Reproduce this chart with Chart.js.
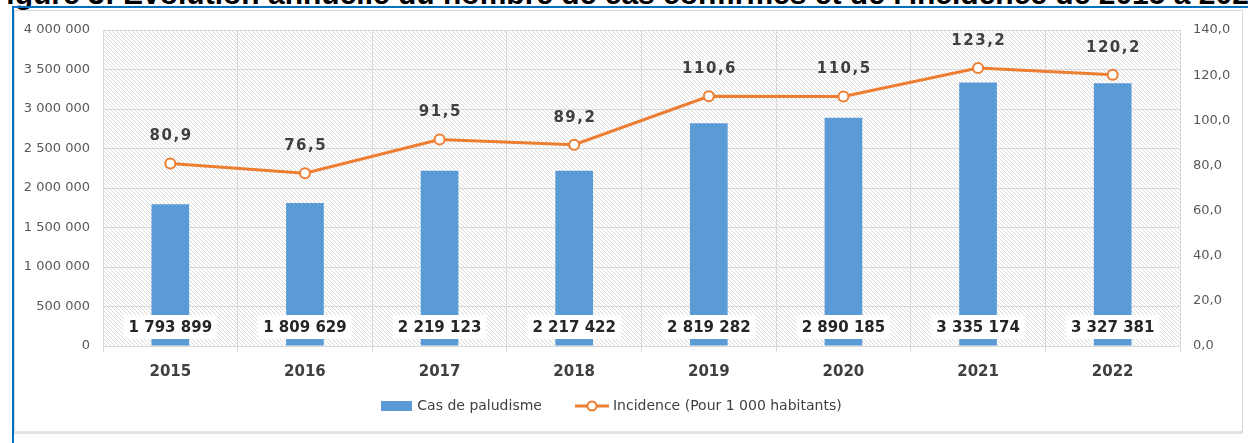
<!DOCTYPE html>
<html><head><meta charset="utf-8">
<script src="https://cdn.jsdelivr.net/npm/chart.js@4/dist/chart.umd.min.js"></script>
<style>
html,body{margin:0;padding:0;background:#fff;overflow:hidden;}
#wrap{position:relative;width:1248px;height:443px;overflow:hidden;background:#fff;}
#title{position:absolute;left:-12px;top:-23px;font:bold 30px "Liberation Sans",Arial,sans-serif;white-space:nowrap;color:#000;line-height:34px;}
#bl-h{position:absolute;left:12px;right:0;top:6px;height:2px;background:#0070C0;}
#bl-v{position:absolute;left:12px;width:2px;top:6px;bottom:0;background:#0070C0;}
#box{position:absolute;left:14px;top:10px;width:1227px;height:420px;border:1px solid #d9d9d9;border-bottom:3px solid #e2e4e3;box-sizing:content-box;}
canvas{position:absolute;left:0;top:0;}
</style>
</head><body>
<div id="wrap">
<div id="title">Figure 3: Évolution annuelle du nombre de cas confirmés et de l'incidence de 2015 à 2022</div>
<div id="box"></div>
<div id="bl-h"></div>
<div id="bl-v"></div>
<canvas id="c" width="1248" height="443"></canvas>
</div>
<script>
// ---- data ----
const years = ['2015','2016','2017','2018','2019','2020','2021','2022'];
const cases = [1793899,1809629,2219123,2217422,2819282,2890185,3335174,3327381];
const incidence = [80.9,76.5,91.5,89.2,110.6,110.5,123.2,120.2];
const seriesNames = ['Cas de paludisme','Incidence (Pour 1 000 habitants)'];

const BLUE='#5B9BD5', ORANGE='#ED7D31';
const FONT='"DejaVu Sans", Verdana, sans-serif';
const fmtInt = n => String(Math.round(n)).replace(/\B(?=(\d{3})+(?!\d))/g,' ');
const fmtDec = v => v.toFixed(1).replace('.',',');

function mk(w,h,draw){const c=document.createElement('canvas');c.width=w;c.height=h;draw(c.getContext('2d'));return c;}
const barIcon = mk(31,10,g=>{g.fillStyle=BLUE;g.fillRect(0,0,31,10);});
const lineIcon = mk(34,12,g=>{g.strokeStyle=ORANGE;g.lineWidth=3;g.beginPath();g.moveTo(0,6);g.lineTo(34,6);g.stroke();
  g.beginPath();g.arc(17,6,4.5,0,2*Math.PI);g.fillStyle='#fff';g.fill();g.lineWidth=2;g.stroke();});

const hatch = {
  id:'hatch',
  beforeDraw(chart){
    const {ctx, chartArea:a} = chart;
    ctx.save();
    ctx.beginPath(); ctx.rect(a.left,a.top,a.right-a.left,a.bottom-a.top); ctx.clip();
    ctx.fillStyle='#fff'; ctx.fillRect(a.left,a.top,a.right-a.left,a.bottom-a.top);
    ctx.strokeStyle='#dadada'; ctx.lineWidth=1;
    const H=a.bottom-a.top;
    ctx.beginPath();
    for(let x=a.left-H; x<a.right; x+=4){ ctx.moveTo(x,a.top); ctx.lineTo(x+H,a.bottom); }
    ctx.stroke();
    ctx.restore();
  }
};

const shiftLegend = {
  id:'shiftLegend',
  afterLayout(chart){ const l=chart.legend; if(l){ l.left-=12; l.right-=12; l.top-=20; l.bottom-=20; } }
};

const labels = {
  id:'vlabels',
  afterDatasetsDraw(chart){
    const ctx=chart.ctx;
    const y0=chart.scales.y.getPixelForValue(0);
    ctx.save();
    ctx.font='bold 15px '+FONT;
    ctx.textAlign='center'; ctx.textBaseline='middle';
    chart.getDatasetMeta(0).data.forEach((el,i)=>{
      const t=fmtInt(cases[i]);
      const w=ctx.measureText(t).width+10;
      const cy=y0-19;
      ctx.fillStyle='#fff'; ctx.fillRect(el.x-w/2,cy-12,w,24);
      ctx.fillStyle='#262626'; ctx.fillText(t,el.x,cy+1);
    });
    ctx.fillStyle='#404040';
    chart.getDatasetMeta(1).data.forEach((el,i)=>{
      const t=fmtDec(incidence[i]);
      const chars=[...t]; const sp=1.5;
      const tw=chars.reduce((s,c)=>s+ctx.measureText(c).width,0)+sp*(chars.length-1);
      let x=el.x-tw/2;
      ctx.textAlign='left';
      chars.forEach(c=>{ctx.fillText(c,x,el.y-27); x+=ctx.measureText(c).width+sp;});
      ctx.textAlign='center';
    });
    ctx.restore();
  }
};

new Chart(document.getElementById('c'),{
  data:{
    labels:years,
    datasets:[
      {type:'bar',label:seriesNames[0],data:cases,backgroundColor:BLUE,yAxisID:'y',order:2,
       barPercentage:0.28,categoryPercentage:1},
      {type:'line',label:seriesNames[1],data:incidence,yAxisID:'y1',order:1,
       borderColor:ORANGE,borderWidth:3,tension:0,pointRadius:5,pointBorderWidth:2,
       pointBackgroundColor:'#fff',pointBorderColor:ORANGE}
    ]
  },
  options:{
    responsive:false,animation:false,
    layout:{padding:{top:30,left:0,right:0,bottom:0}},
    plugins:{
      tooltip:{enabled:false},
      legend:{position:'bottom',
        labels:{usePointStyle:true,pointStyleWidth:28,padding:36,color:'#404040',
          font:{family:FONT,size:14},
          generateLabels:()=>[
            {text:seriesNames[0],pointStyle:barIcon,fillStyle:BLUE,strokeStyle:BLUE,lineWidth:0,datasetIndex:0,hidden:false,fontColor:'#404040'},
            {text:seriesNames[1],pointStyle:lineIcon,fillStyle:ORANGE,strokeStyle:ORANGE,lineWidth:0,datasetIndex:1,hidden:false,fontColor:'#404040'}
          ]}}
    },
    scales:{
      x:{grid:{color:'#d9d9d9',offset:true,drawTicks:true,tickLength:6},
         border:{color:'#d9d9d9'},
         ticks:{color:'#404040',padding:11,font:{family:FONT,size:15,weight:'bold'}},
         afterFit:s=>{s.height=443-346-s.chart.legend.height;}},
      y:{position:'left',min:0,max:4000000,
         ticks:{stepSize:500000,color:'#595959',padding:13,font:{family:FONT,size:13},callback:v=>fmtInt(v)},
         grid:{color:'#d9d9d9',drawTicks:false},border:{display:false},
         afterFit:s=>{s.width=103;}},
      y1:{position:'right',min:0,max:140,
         ticks:{stepSize:20,color:'#595959',padding:13,font:{family:FONT,size:13},callback:v=>fmtDec(v)},
         grid:{display:false,drawTicks:false},border:{display:false},
         afterFit:s=>{s.width=68;}}
    }
  },
  plugins:[hatch,shiftLegend,labels]
});
</script>
</body></html>
